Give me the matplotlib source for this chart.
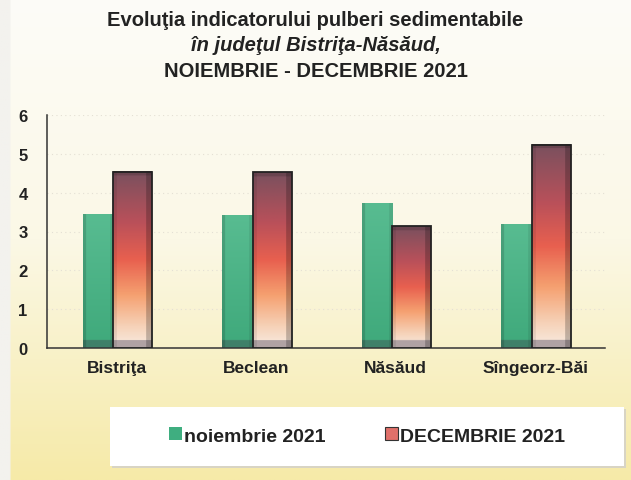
import numpy as np
import matplotlib
matplotlib.use("Agg")
import matplotlib.pyplot as plt
from matplotlib.patches import Rectangle
from matplotlib.colors import LinearSegmentedColormap, to_rgb

categories = ["Bistriţa", "Beclean", "Năsăud", "Sîngeorz-Băi"]
noiembrie = [3.44, 3.42, 3.71, 3.19]
decembrie = [4.54, 4.53, 3.13, 5.23]
series_labels = ["noiembrie 2021", "DECEMBRIE 2021"]
yticks = [0, 1, 2, 3, 4, 5, 6]

FONT = ["Liberation Sans", "DejaVu Sans"]
plt.rcParams["font.family"] = FONT

W, H = 631, 481
fig = plt.figure(figsize=(W / 100, H / 100), dpi=100)

# background gradient
bg = fig.add_axes([0, 0, 1, 1], zorder=-10)
bg.set_axis_off()
t = np.linspace(0, 1, 200)[:, None]
top = np.array(to_rgb("#fdfcf8"))
mid = np.array(to_rgb("#fbf8e6"))
bot = np.array(to_rgb("#f6eaa8"))
col = np.where(t < 0.5, top + (mid - top) * (t / 0.5),
               mid + (bot - mid) * ((t - 0.5) / 0.5))
img = np.broadcast_to(col[:, None, :], (200, 300, 3)).copy()
img[:, :5, :] = np.array(to_rgb("#f3f2ee"))
bg.imshow(img, aspect="auto", extent=[0, 1, 0, 1], origin="upper")
bg.set_xlim(0, 1)
bg.set_ylim(0, 1)

ax = fig.add_axes([47 / W, 1 - 349 / H, (605 - 47) / W, (349 - 116) / H])
ax.set_facecolor("none")
x = np.arange(len(categories))

gl, gr = -0.242, -0.025
rl, rr = -0.025, 0.253
b1 = ax.bar(x + (gl + gr) / 2, noiembrie, width=gr - gl, color="#4db58a", zorder=3)
b2 = ax.bar(x + (rl + rr) / 2, decembrie, width=rr - rl, color="#e06050",
            edgecolor="#222222", linewidth=1.3, zorder=4)

red_cmap = LinearSegmentedColormap.from_list(
    "r", [(0.0, "#f8ece2"), (0.12, "#f6d2b8"), (0.3, "#f5a070"),
          (0.5, "#e8604f"), (0.72, "#b8505a"), (1.0, "#7a505e")])
green_top = np.array(to_rgb("#58bc91"))
green_bot = np.array(to_rgb("#3fa97b"))

def fill(bar, kind, z):
    x0, y0 = bar.get_x(), bar.get_y()
    w, h = bar.get_width(), bar.get_height()
    ny, nx = 200, 40
    yy = np.linspace(0, h, ny)[:, None]
    xx = np.linspace(0, 1, nx)
    if kind == "r":
        base = red_cmap(np.clip(yy[:, 0] / h, 0, 1))[:, :3]
        base = np.broadcast_to(base[:, None, :], (ny, nx, 3)).copy()
        shade = np.ones((ny, nx))
        shade[:, xx > 0.85] = 0.78
        shade[:, xx < 0.1] *= 0.92
        bev = (yy[:, 0] < 0.2)
        base[bev, :, :] = np.array(to_rgb("#b0a2a4"))
        base[yy[:, 0] > h - 0.1, :, :] *= 0.85
    else:
        frac = np.clip(yy[:, 0] / h, 0, 1)
        base = green_bot + (green_top - green_bot) * frac[:, None]
        base = np.broadcast_to(base[:, None, :], (ny, nx, 3)).copy()
        shade = np.ones((ny, nx))
        shade[:, xx < 0.1] = 0.86
        shade[:, xx > 0.88] = 0.92
        bev = (yy[:, 0] < 0.2)
        base[bev, :, :] = np.array(to_rgb("#3f8069"))
    im = base * shade[..., None]
    ax.imshow(im[::-1], extent=[x0, x0 + w, y0, y0 + h], aspect="auto",
              zorder=z, interpolation="bilinear")
    bar.set_facecolor("none")

for b in b1:
    fill(b, "g", 2.5)
for b in b2:
    fill(b, "r", 3.5)
ax.set_xlim(-0.5, len(categories) - 0.5)
ax.set_ylim(0, 6)

ax.set_yticks(yticks)
ax.set_yticklabels([str(v) for v in yticks], fontsize=12, fontweight="bold", color="#222222")
ax.set_xticks(x)
ax.set_xticklabels(categories, fontsize=12.5, fontweight="bold", color="#222222")
ax.tick_params(axis="both", length=0)
ax.tick_params(axis="y", pad=14)
ax.tick_params(axis="x", pad=9)
for s in ["top", "right"]:
    ax.spines[s].set_visible(False)
for s in ["left", "bottom"]:
    ax.spines[s].set_color("#333333")
    ax.spines[s].set_linewidth(1.1)
ax.grid(axis="y", color="#e4e0d4", linestyle=(0, (1, 3)), linewidth=0.8, zorder=0)
ax.set_axisbelow(True)

fig.text(0.5, 1 - 26 / H, "Evoluţia indicatorului pulberi sedimentabile", ha="center",
         va="baseline", fontsize=14.5, fontweight="bold", color="#222222")
fig.text(0.5, 1 - 51 / H, "în judeţul Bistriţa-Năsăud,", ha="center", va="baseline",
         fontsize=14.5, fontweight="bold", fontstyle="italic", color="#222222")
fig.text(0.5, 1 - 77 / H, "NOIEMBRIE - DECEMBRIE 2021", ha="center", va="baseline",
         fontsize=14.5, fontweight="bold", color="#222222")

# legend box
fig.patches.append(Rectangle((112 / W, 1 - 469 / H), 514 / W, 59 / H, transform=fig.transFigure,
                             facecolor="#d8d4c4", edgecolor="none", zorder=0))
fig.patches.append(Rectangle((110 / W, 1 - 467 / H), 514 / W, 59 / H, transform=fig.transFigure,
                             facecolor="white", edgecolor="none", zorder=1))
h1 = Rectangle((0, 0), 1, 1, facecolor="#3fae80", edgecolor="none")
h2 = Rectangle((0, 0), 1, 1, facecolor="#e0706a", edgecolor="#333333", linewidth=0.8)
leg = fig.legend([h1, h2], series_labels, loc="center", bbox_to_anchor=(367 / W, 1 - 437 / H),
                 ncol=2, frameon=False, prop={"family": ["Liberation Sans", "DejaVu Sans"],
                                              "weight": "bold", "size": 14},
                 handlelength=0.65, handleheight=0.65, handletextpad=0.1, columnspacing=3.1)
for t_ in leg.get_texts():
    t_.set_color("#222222")

fig.savefig("out.png", dpi=100)
